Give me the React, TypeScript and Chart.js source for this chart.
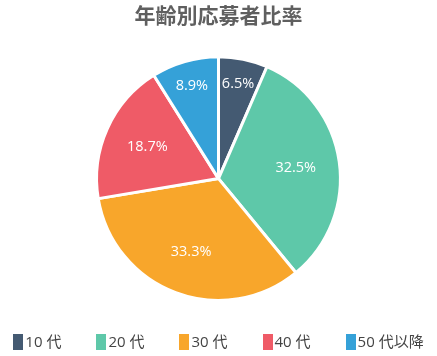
import React, { useEffect, useRef } from "react";
import { Chart, registerables } from "chart.js";

Chart.register(...registerables);

const title = "年齢別応募者比率";
const categories = ["10 代", "20 代", "30 代", "40 代", "50 代以降"];
const values = [6.5, 32.5, 33.3, 18.7, 8.9];
const colors = ["#445a72", "#5ec8a9", "#f8a62b", "#ef5b67", "#35a1d8"];

const FONT = "'Open Sans', 'Noto Sans CJK JP', sans-serif";

const labelPlugin = {
  id: "sliceLabels",
  afterDatasetsDraw(chart: any) {
    const meta = chart.getDatasetMeta(0);
    const ctx = chart.ctx;
    ctx.save();
    ctx.fillStyle = "#ffffff";
    ctx.font = `14.5px ${FONT}`;
    ctx.textAlign = "center";
    ctx.textBaseline = "middle";
    meta.data.forEach((arc: any, i: number) => {
      const { x, y, startAngle, endAngle, outerRadius } = arc.getProps(
        ["x", "y", "startAngle", "endAngle", "outerRadius"],
        true
      );
      const mid = (startAngle + endAngle) / 2;
      const frac = values[i] < 10 ? 0.79 : 0.64;
      const r = outerRadius * frac;
      ctx.fillText(values[i].toFixed(1) + "%", x + Math.cos(mid) * r, y + Math.sin(mid) * r);
    });
    ctx.restore();
  },
};

export default function App() {
  const ref = useRef<HTMLCanvasElement>(null);
  useEffect(() => {
    if (!ref.current) return;
    const chart = new Chart(ref.current, {
      type: "pie",
      data: {
        labels: categories,
        datasets: [
          {
            data: values,
            backgroundColor: colors,
            borderColor: "#ffffff",
            borderWidth: 3,
          },
        ],
      },
      options: {
        animation: false,
        responsive: false,
        layout: { padding: { top: 0, bottom: 54, left: 0, right: 0 } },
        plugins: {
          legend: { display: false },
          tooltip: { enabled: false },
          title: {
            display: true,
            text: title,
            color: "#5f5f5f",
            font: { family: FONT, size: 21, weight: "600" },
            padding: { top: 4, bottom: 26 },
          },
        },
      },
      plugins: [labelPlugin],
    });
    return () => chart.destroy();
  }, []);

  return (
    <div style={{ position: "fixed", left: 0, top: 0, width: 437, height: 356, background: "#fff" }}>
      <canvas ref={ref} width={437} height={356} style={{ display: "block" }} />
      <div
        style={{
          position: "absolute",
          left: 0,
          top: 333,
          width: 437,
          display: "flex",
          justifyContent: "center",
          gap: 35,
          fontFamily: FONT,
          fontSize: 15,
          color: "#444",
          lineHeight: "17px",
        }}
      >
        {categories.map((c, i) => (
          <div key={c} style={{ display: "flex", alignItems: "center" }}>
            <span style={{ display: "inline-block", width: 10, height: 16, background: colors[i], marginRight: 2 }} />
            <span>{c}</span>
          </div>
        ))}
      </div>
    </div>
  );
}
